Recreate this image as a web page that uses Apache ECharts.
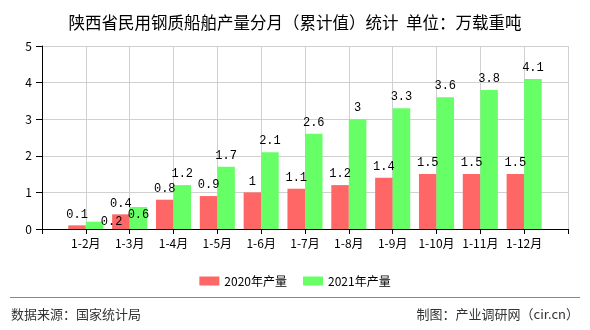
<!DOCTYPE html>
<html>
<head>
<meta charset="utf-8">
<script src="https://cdn.jsdelivr.net/npm/echarts@6/dist/echarts.min.js"></script>
<style>
  html, body { margin: 0; padding: 0; background: #fff; }
  #chart { width: 590px; height: 330px; }
</style>
</head>
<body>
<div id="chart"></div>
<script>
// Monthly cumulative output of civil steel ships, Shaanxi (10k DWT)
const months = ['1-2月', '1-3月', '1-4月', '1-5月', '1-6月', '1-7月', '1-8月', '1-9月', '1-10月', '1-11月', '1-12月'];
const output2020 = [0.1, 0.4, 0.8, 0.9, 1, 1.1, 1.2, 1.4, 1.5, 1.5, 1.5];
const output2021 = [0.2, 0.6, 1.2, 1.7, 2.1, 2.6, 3, 3.3, 3.6, 3.8, 4.1];
const seriesNames = ['2020年产量', '2021年产量'];
const yTicks = [0, 1, 2, 3, 4, 5];

// label nudges for the crowded low bars (series index -> month index -> offset)
const labelNudges = { 1: { 0: [17, 11], 1: [0, 19] } };

const chart = echarts.init(document.getElementById('chart'), null, { renderer: 'canvas' });

// pad an empty slot at both ends so bars sit on the grid lines
const cats = [''].concat(months, ['']);
function buildData(values, si) {
  const items = values.map(function (v, i) {
    const nudge = labelNudges[si] && labelNudges[si][i];
    return nudge ? { value: v, label: { offset: nudge } } : v;
  });
  return ['-'].concat(items, ['-']);
}

const valueLabel = {
  show: true,
  position: 'top',
  distance: 5,
  color: '#000',
  fontFamily: '"Liberation Mono", "DejaVu Sans Mono", monospace',
  fontSize: 12
};

chart.setOption({
  animation: false,
  title: {
    text: '陕西省民用钢质船舶产量分月（累计值）统计  单位：万载重吨',
    left: 'center',
    top: 9,
    textStyle: { fontFamily: '"Noto Sans CJK SC"', fontSize: 16.5, fontWeight: 'normal', color: '#000' }
  },
  legend: {
    top: 270,
    left: 'center',
    itemWidth: 20,
    itemHeight: 9,
    itemGap: 16,
    icon: 'rect',
    textStyle: { fontFamily: '"Noto Sans CJK SC"', fontSize: 12, color: '#000' },
    data: seriesNames
  },
  grid: { left: 42, right: 22, top: 46, bottom: 101, containLabel: false },
  xAxis: {
    type: 'category',
    data: cats,
    boundaryGap: false,
    axisLine: { lineStyle: { color: '#000', width: 1 } },
    axisTick: { show: true, length: 5, lineStyle: { color: '#000' } },
    axisLabel: { color: '#000', fontFamily: '"Noto Sans CJK SC"', fontSize: 12, margin: 8, interval: 0 },
    splitLine: { show: true, lineStyle: { color: '#d0d0d0', width: 1 } }
  },
  yAxis: {
    type: 'value',
    min: yTicks[0],
    max: yTicks[yTicks.length - 1],
    interval: 1,
    axisLine: { show: true, lineStyle: { color: '#000', width: 1 } },
    axisTick: { show: true, length: 6, lineStyle: { color: '#000' } },
    axisLabel: { color: '#000', fontFamily: '"Noto Sans CJK SC"', fontSize: 12, margin: 10 },
    splitLine: { show: true, lineStyle: { color: '#d0d0d0', width: 1 } }
  },
  series: [
    {
      name: seriesNames[0],
      type: 'bar',
      data: buildData(output2020, 0),
      itemStyle: { color: '#ff6666' },
      barGap: '0%',
      barCategoryGap: '20%',
      label: valueLabel
    },
    {
      name: seriesNames[1],
      type: 'bar',
      data: buildData(output2021, 1),
      itemStyle: { color: '#66ff66' },
      barGap: '0%',
      barCategoryGap: '20%',
      label: valueLabel
    }
  ],
  graphic: [
    { type: 'line', shape: { x1: 10, y1: 297.5, x2: 580, y2: 297.5 }, style: { stroke: '#888', lineWidth: 1 } },
    { type: 'text', left: 11, top: 308, style: { text: '数据来源：国家统计局', fill: '#333', font: '13px "Noto Sans CJK SC"' } },
    { type: 'text', right: 11, top: 308, style: { text: '制图：产业调研网（cir.cn）', fill: '#333', font: '13px "Noto Sans CJK SC"' } }
  ]
});
</script>
</body>
</html>
